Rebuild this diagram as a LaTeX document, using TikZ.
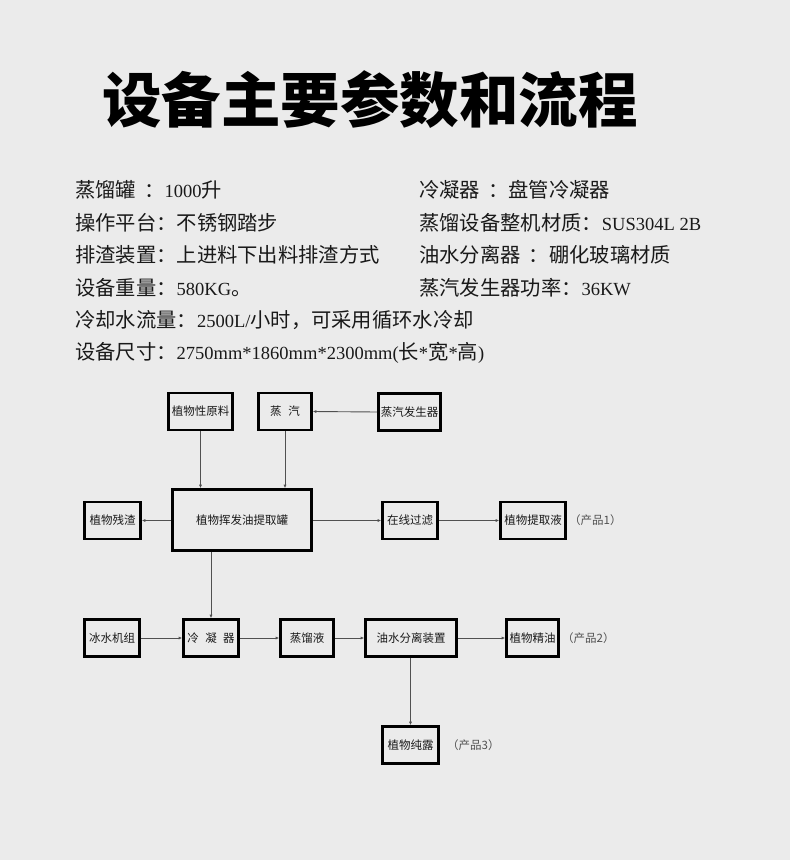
\documentclass[tikz,border=0pt]{standalone}
\usepackage{fontspec}
\setmainfont{Liberation Serif}
\newfontfamily\cjk{Noto Sans CJK SC}
\usetikzlibrary{arrows.meta}
\definecolor{bgc}{RGB}{235,235,235}
\definecolor{txt}{RGB}{25,25,25}
\definecolor{lnc}{RGB}{80,80,80}
\newcommand\cj[1]{{\cjk\fontsize{20.3}{22}\selectfont #1}}
\begin{document}
\begin{tikzpicture}[x=1pt,y=-1pt,
  spec/.style={anchor=base west,inner sep=0pt,text=txt,font=\fontsize{18.5}{22}\selectfont},
  fbox/.style={draw=black,line width=2.6pt,inner sep=0pt,minimum height=37pt,text=txt,
    font=\cjk\fontsize{11.5}{14}\selectfont},
  prod/.style={anchor=west,inner sep=0pt,text=lnc,font=\cjk\fontsize{11.5}{14}\selectfont},
  conn/.style={draw=lnc,line width=0.9pt,-{Latex[length=3.5pt,width=3pt]}}]
\useasboundingbox[fill=bgc] (0,0) rectangle (790,860);
% title
\node[anchor=base,inner sep=0pt,text=black,font=\cjk\bfseries\fontsize{59.5}{62}\selectfont] (title) at (370,122) {设备主要参数和流程};
% specifications
\node[spec] (s1) at (75,197.5) {\cj{蒸馏罐\hspace{0.4em}：}1000\cj{升}};
\node[spec] (s2) at (75,230) {\cj{操作平台：不锈钢踏步}};
\node[spec] (s3) at (75,262.5) {\cj{排渣装置：上进料下出料排渣方式}};
\node[spec] (s4) at (75,295.5) {\cj{设备重量：}580KG\cj{。}};
\node[spec] (s5) at (75,327.5) {\cj{冷却水流量：}2500L/\cj{小时，可采用循环水冷却}};
\node[spec] (s6) at (75,359.5) {\cj{设备尺寸：}2750mm*1860mm*2300mm(\cj{长}*\cj{宽}*\cj{高})};
\node[spec] (s7) at (419,197.5) {\cj{冷凝器\hspace{0.4em}：盘管冷凝器}};
\node[spec] (s8) at (419,230) {\cj{蒸馏设备整机材质：}SUS304L 2B};
\node[spec] (s9) at (419,262.5) {\cj{油水分离器\hspace{0.4em}：硼化玻璃材质}};
\node[spec] (s10) at (419,295.5) {\cj{蒸汽发生器功率：}36KW};
% flowchart boxes
\node[fbox,minimum width=64pt] (raw) at (200.5,411.5) {植物性原料};
\node[fbox,minimum width=53pt] (steam) at (285,411.5) {蒸\hspace{0.6em}汽};
\node[fbox,minimum width=62pt] (gen) at (409.5,412) {蒸汽发生器};
\node[fbox,minimum width=139pt,minimum height=61pt] (tank) at (242,520) {植物挥发油提取罐};
\node[fbox,minimum width=56pt] (res) at (112.5,520.5) {植物残渣};
\node[fbox,minimum width=55pt] (filt) at (410,520.5) {在线过滤};
\node[fbox,minimum width=65pt] (ext) at (533,520.5) {植物提取液};
\node[fbox,minimum width=55pt] (chill) at (112,638) {冰水机组};
\node[fbox,minimum width=55pt] (cond) at (211,638) {冷\hspace{0.55em}凝\hspace{0.55em}器};
\node[fbox,minimum width=53pt] (dist) at (307,638) {蒸馏液};
\node[fbox,minimum width=91pt] (sep) at (411,638) {油水分离装置};
\node[fbox,minimum width=52pt] (oil) at (532.5,638) {植物精油};
\node[fbox,minimum width=56pt] (hyd) at (410.5,745) {植物纯露};
% product labels
\node[prod] (p1) at (569,520.5) {（产品1）};
\node[prod] (p2) at (562,638) {（产品2）};
\node[prod] (p3) at (447,745) {（产品3）};
% connectors
\draw[conn] (raw.south) -- (raw.south |- tank.north);
\draw[conn] (steam.south) -- (steam.south |- tank.north);
\draw[conn] (gen.west) -- (steam.east);
\draw[conn] (tank.west |- res) -- (res.east);
\draw[conn] (tank.east |- filt) -- (filt.west);
\draw[conn] (filt.east) -- (ext.west);
\draw[conn] (tank.south -| cond.north) -- (cond.north);
\draw[conn] (chill.east) -- (cond.west);
\draw[conn] (cond.east) -- (dist.west);
\draw[conn] (dist.east) -- (sep.west);
\draw[conn] (sep.east) -- (oil.west);
\draw[conn] (sep.south -| hyd.north) -- (hyd.north);
\end{tikzpicture}
\end{document}
